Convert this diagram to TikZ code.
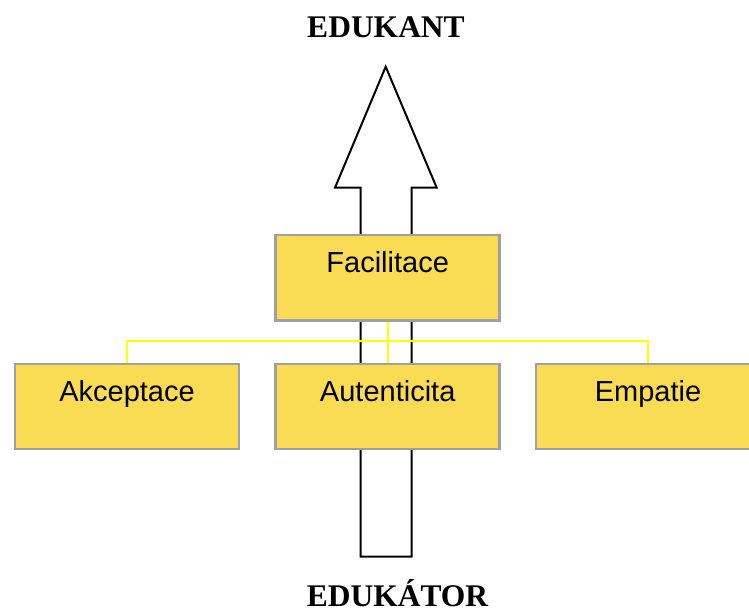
\documentclass[tikz,border=0pt]{standalone}
\usepackage{fontspec}
\setmainfont{Liberation Serif}
\newfontfamily\arialfont{Liberation Sans}
\definecolor{boxfill}{RGB}{249,220,84}
\definecolor{boxedge}{RGB}{160,160,160}
\definecolor{busyellow}{RGB}{255,255,0}
\begin{document}
\begin{tikzpicture}[x=1pt,y=-1pt,
  box/.style={draw=boxedge, line width=2.5pt, fill=boxfill, anchor=north,
    minimum width=224pt, inner xsep=0pt, inner ysep=0pt,
    text height=37.5pt, text depth=47.5pt,
    font=\arialfont\fontsize{29}{34}\selectfont},
  bus/.style={draw=busyellow, line width=2pt},
  title/.style={font=\bfseries\fontsize{31.5}{36}\selectfont, anchor=base},
  bigarrow/.style={draw=black, fill=white, line width=2pt}]
\useasboundingbox (0,0) rectangle (749,612);
\clip (0,0) rectangle (749,612);
\fill[white] (0,0) rectangle (749,612);
% hollow arrow
\draw[bigarrow] (360.7,556.7) -- (360.7,187.7) -- (335,187.7) -- (385.7,66.7)
  -- (436.7,187.7) -- (411.7,187.7) -- (411.7,556.7) -- cycle;
% titles
\node[title] (top) at (386,38) {EDUKANT};
\node[title] (bot) at (397.5,606) {EDUKÁTOR};
% boxes
\node[box] (fac) at (387.7,234) {Facilitace};
\node[box] (akc) at (127,362.5) {Akceptace};
\node[box] (aut) at (387.7,362.5) {Autenticita};
\node[box] (emp) at (648,362.5) {Empatie};
% yellow connectors
\draw[bus] (fac.south) -- (aut.north);
\draw[bus] (akc.north) -- ++(0,-21.5) -| (emp.north);
\end{tikzpicture}
\end{document}
